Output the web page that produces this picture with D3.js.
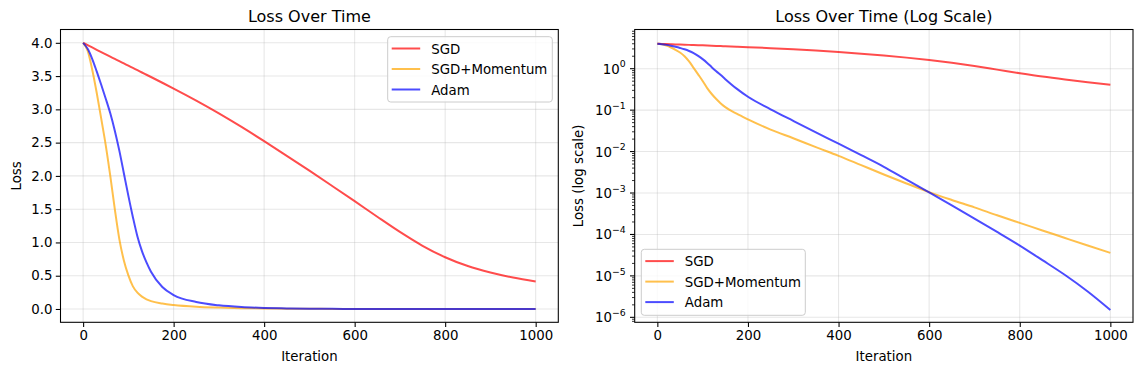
<!DOCTYPE html>
<html>
<head>
<meta charset="utf-8">
<script src="https://cdn.jsdelivr.net/npm/d3@7"></script>
<style>
  html, body { margin: 0; padding: 0; background: #fff; }
  svg { display: block; }
  text { font-family: "DejaVu Sans", sans-serif; fill: #000; }
</style>
</head>
<body>
<svg id="chart" width="1142" height="374"></svg>
<script>
// ---- data ----
const iterations = [0,10,20,30,40,50,60,70,80,90,100,110,120,130,140,150,175,200,250,300,350,400,450,500,550,600,650,700,750,800,850,900,950,1000];
const sgd = [4.0,3.965,3.930,3.895,3.860,3.826,3.792,3.758,3.724,3.690,3.656,3.622,3.588,3.554,3.520,3.486,3.400,3.313,3.132,2.940,2.736,2.522,2.302,2.078,1.850,1.620,1.386,1.158,0.950,0.778,0.645,0.548,0.472,0.412];
const sgdMomentum = [4.0,3.88,3.60,3.25,2.86,2.46,2.00,1.50,1.05,0.73,0.505,0.34,0.245,0.185,0.145,0.118,0.082,0.060,0.034,0.021,0.0128,0.0079,0.0047,0.0028,0.0017,0.00105,0.00068,0.00045,0.00029,0.00019,0.000125,0.000082,0.000054,0.000036];
const adam = [4.0,3.91,3.76,3.57,3.37,3.16,2.94,2.68,2.38,2.04,1.70,1.38,1.09,0.87,0.70,0.56,0.33,0.21,0.105,0.055,0.029,0.0155,0.0082,0.0043,0.0021,0.00103,0.0005,0.00024,0.000115,0.000054,0.000024,0.0000105,0.0000042,0.0000015];
const seriesNames = ["SGD", "SGD+Momentum", "Adam"];
const seriesColors = ["red", "orange", "blue"];
const xTicks = [0, 200, 400, 600, 800, 1000];
const yTicksLinear = [0, 0.5, 1, 1.5, 2, 2.5, 3, 3.5, 4];
const logExponents = [0, -1, -2, -3, -4, -5, -6];
const titles = ["Loss Over Time", "Loss Over Time (Log Scale)"];
const yLabels = ["Loss", "Loss (log scale)"];
const xLabel = "Iteration";

const seriesData = [sgd, sgdMomentum, adam];
const svg = d3.select("#chart");
const FS = 13.33;
const gridColor = "#b0b0b0";

function drawPanel(cfg) {
  const { left, right, top, bottom, yScale, log, title, ylabel, yLabelX, legend } = cfg;
  const g = svg.append("g");
  const x = d3.scaleLinear().domain([-50, 1050]).range([left, right]);
  const y = yScale.range([bottom, top]);

  // grid
  xTicks.forEach(t => {
    g.append("line").attr("x1", x(t)).attr("x2", x(t)).attr("y1", top).attr("y2", bottom)
      .attr("stroke", gridColor).attr("stroke-opacity", 0.3).attr("stroke-width", 1.07);
  });
  const yMajor = log ? logExponents.map(e => Math.pow(10, e)) : yTicksLinear;
  yMajor.forEach(t => {
    g.append("line").attr("x1", left).attr("x2", right).attr("y1", y(t)).attr("y2", y(t))
      .attr("stroke", gridColor).attr("stroke-opacity", 0.3).attr("stroke-width", 1.07);
  });

  // lines
  const clipId = "clip" + Math.round(left);
  svg.append("clipPath").attr("id", clipId).append("rect")
    .attr("x", left).attr("y", top).attr("width", right - left).attr("height", bottom - top);
  const line = d3.line().x((d, i) => x(iterations[i])).y(d => y(d)).curve(d3.curveMonotoneX);
  seriesData.forEach((s, k) => {
    g.append("path").attr("d", line(s)).attr("fill", "none")
      .attr("stroke", seriesColors[k]).attr("stroke-opacity", 0.7).attr("stroke-width", 2)
      .attr("stroke-linejoin", "round").attr("stroke-linecap", "butt")
      .attr("clip-path", `url(#${clipId})`);
  });

  // x axis
  const xAxis = d3.axisBottom(x).tickValues(xTicks).tickSizeOuter(0).tickSize(4.7).tickPadding(3.3).tickFormat(d3.format("d"));
  const xa = g.append("g").attr("transform", `translate(0,${bottom})`).call(xAxis);
  xa.select(".domain").remove();
  xa.selectAll("line").attr("stroke", "#000").attr("stroke-width", 1.07);
  xa.selectAll("text").attr("font-size", FS).attr("font-family", "DejaVu Sans").attr("fill", "#000");

  // y axis
  if (!log) {
    const yAxis = d3.axisLeft(y).tickValues(yTicksLinear).tickSize(4.7).tickPadding(3.3).tickFormat(d3.format(".1f"));
    const ya = g.append("g").attr("transform", `translate(${left},0)`).call(yAxis);
    ya.select(".domain").remove();
    ya.selectAll("line").attr("stroke", "#000").attr("stroke-width", 1.07);
    ya.selectAll("text").attr("font-size", FS).attr("font-family", "DejaVu Sans").attr("fill", "#000");
  } else {
    const [dMin, dMax] = y.domain();
    // minor ticks
    for (let e = -7; e <= 1; e++) {
      for (let m = 2; m <= 9; m++) {
        const v = m * Math.pow(10, e);
        if (v < dMin || v > dMax) continue;
        g.append("line").attr("x1", left - 2.7).attr("x2", left).attr("y1", y(v)).attr("y2", y(v))
          .attr("stroke", "#000").attr("stroke-width", 0.8);
      }
    }
    logExponents.forEach(e => {
      const v = Math.pow(10, e);
      const yy = y(v);
      g.append("line").attr("x1", left - 4.7).attr("x2", left).attr("y1", yy).attr("y2", yy)
        .attr("stroke", "#000").attr("stroke-width", 1.07);
      const t = g.append("text").attr("x", left - 9).attr("y", yy + 5).attr("text-anchor", "end")
        .attr("font-size", FS);
      t.append("tspan").text("10");
      t.append("tspan").attr("font-size", FS * 0.7).attr("dy", -6.3)
        .text(e === 0 ? "0" : "\u2212" + Math.abs(e));
    });
  }

  // spines
  g.append("rect").attr("x", left).attr("y", top).attr("width", right - left).attr("height", bottom - top)
    .attr("fill", "none").attr("stroke", "#000").attr("stroke-width", 1.07);

  // title & labels
  g.append("text").attr("x", (left + right) / 2).attr("y", 22).attr("text-anchor", "middle")
    .attr("font-size", 16).text(title);
  g.append("text").attr("x", (left + right) / 2).attr("y", 361).attr("text-anchor", "middle")
    .attr("font-size", FS).text(xLabel);
  g.append("text").attr("transform", `translate(${yLabelX},${(top + bottom) / 2}) rotate(-90)`)
    .attr("text-anchor", "middle").attr("font-size", FS).text(ylabel);

  // legend
  const lg = g.append("g");
  lg.append("rect").attr("x", legend.x).attr("y", legend.y).attr("width", legend.w).attr("height", legend.h)
    .attr("rx", 3).attr("fill", "#fff").attr("fill-opacity", 0.8).attr("stroke", "#cccccc").attr("stroke-width", 1);
  seriesNames.forEach((n, k) => {
    const yy = legend.y + 11.8 + k * 20.5;
    lg.append("line").attr("x1", legend.x + 4).attr("x2", legend.x + 32.5).attr("y1", yy).attr("y2", yy)
      .attr("stroke", seriesColors[k]).attr("stroke-opacity", 0.7).attr("stroke-width", 2);
    lg.append("text").attr("x", legend.x + 43.5).attr("y", yy + 5).attr("font-size", FS).text(n);
  });
}

drawPanel({
  left: 60.5, right: 558.3, top: 29.5, bottom: 322.3,
  yScale: d3.scaleLinear().domain([-0.2, 4.2]),
  log: false, title: titles[0], ylabel: yLabels[0], yLabelX: 21,
  legend: { x: 387.7, y: 36.7, w: 164.6, h: 65.3 }
});
drawPanel({
  left: 634.7, right: 1133, top: 29.5, bottom: 322.3,
  yScale: d3.scaleLog().domain([Math.pow(10, -6.12), Math.pow(10, 0.946)]),
  log: true, title: titles[1], ylabel: yLabels[1], yLabelX: 583,
  legend: { x: 641.3, y: 249.3, w: 164, h: 66 }
});
</script>
</body>
</html>
